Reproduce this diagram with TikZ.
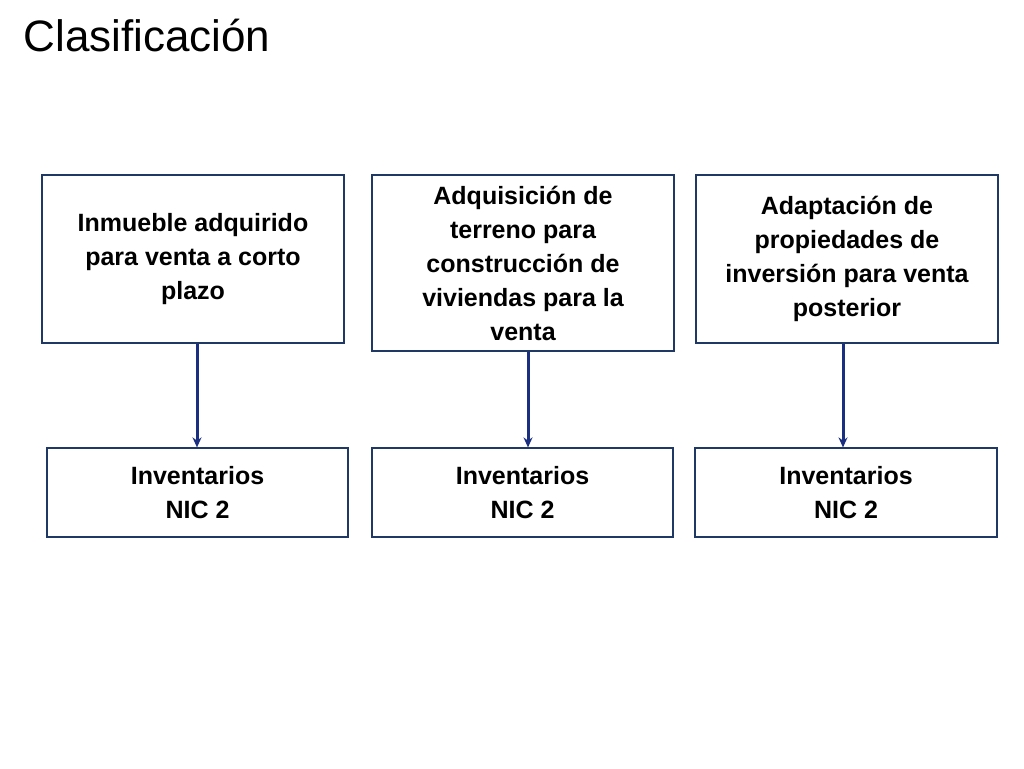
\documentclass[tikz,border=0pt]{standalone}
\usepackage{fontspec}
\setmainfont{Liberation Sans}
\usetikzlibrary{arrows.meta}
\definecolor{boxc}{HTML}{1F3864}
\definecolor{arr}{HTML}{1A2F80}
\begin{document}
\begin{tikzpicture}[x=1pt,y=-1pt,
  bx/.style={draw=boxc,line width=1.2pt,align=center,font=\fontsize{25}{34}\selectfont\bfseries,inner sep=0pt},
  ar/.style={draw=arr,line width=3pt,-{Stealth[length=10pt,width=9pt]}}]
\useasboundingbox (0,0) rectangle (1024,768);
\node[anchor=west,font=\fontsize{44}{48}\selectfont] (t) at (20,36) {Clasificación};
\node[bx,minimum width=302pt,minimum height=168pt] (a1) at (193,259) {Inmueble adquirido\\para venta a corto\\plazo};
\node[bx,minimum width=302pt,minimum height=176pt] (a2) at (523,263) {Adquisición de\\terreno para\\construcción de\\viviendas para la\\venta};
\node[bx,minimum width=302pt,minimum height=168pt] (a3) at (847,259) {Adaptación de\\propiedades de\\inversión para venta\\posterior};
\node[bx,minimum width=301pt,minimum height=89pt] (b1) at (197.5,492.5) {Inventarios\\NIC 2};
\node[bx,minimum width=301pt,minimum height=89pt] (b2) at (522.5,492.5) {Inventarios\\NIC 2};
\node[bx,minimum width=302pt,minimum height=89pt] (b3) at (846,492.5) {Inventarios\\NIC 2};
\draw[ar] (a1.south -| 197,0) -- (b1.north -| 197,0);
\draw[ar] (a2.south -| 528,0) -- (b2.north -| 528,0);
\draw[ar] (a3.south -| 843,0) -- (b3.north -| 843,0);
\end{tikzpicture}
\end{document}
